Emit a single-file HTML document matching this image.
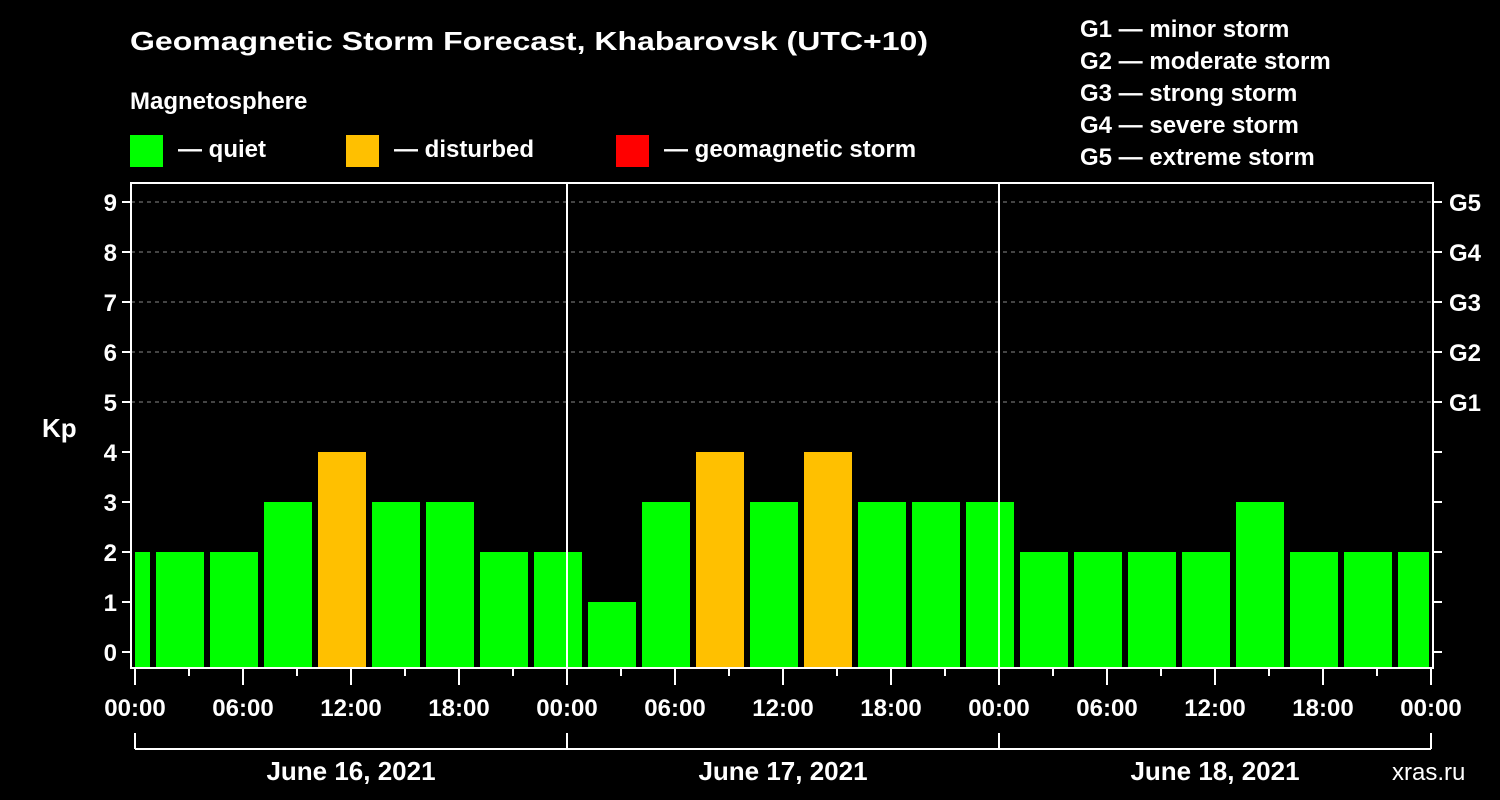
<!DOCTYPE html>
<html><head><meta charset="utf-8"><style>
body{margin:0;background:#000;}
svg{display:block;font-family:"Liberation Sans",Arial,sans-serif;font-weight:bold;}
</style></head><body>
<svg id="chart" width="1500" height="800" xmlns="http://www.w3.org/2000/svg">
<rect width="1500" height="800" fill="#000"/>
<text x="130" y="50" fill="#fff" font-size="26" textLength="798" lengthAdjust="spacingAndGlyphs">Geomagnetic Storm Forecast, Khabarovsk (UTC+10)</text>
<text x="130" y="109" fill="#fff" font-size="24">Magnetosphere</text>
<g><rect x="130" y="135" width="33" height="32" fill="#00ff00"/><text x="178" y="157" fill="#fff" font-size="24">— quiet</text></g>
<g><rect x="346" y="135" width="33" height="32" fill="#ffc000"/><text x="394" y="157" fill="#fff" font-size="24">— disturbed</text></g>
<g><rect x="616" y="135" width="33" height="32" fill="#ff0000"/><text x="664" y="157" fill="#fff" font-size="24">— geomagnetic storm</text></g>
<g fill="#fff" font-size="24">
<text x="1080" y="37">G1 — minor storm</text>
<text x="1080" y="69">G2 — moderate storm</text>
<text x="1080" y="101">G3 — strong storm</text>
<text x="1080" y="133">G4 — severe storm</text>
<text x="1080" y="165">G5 — extreme storm</text>
</g>
<text x="42" y="437" fill="#fff" font-size="26">Kp</text>
<text x="1392" y="780" fill="#fff" font-size="24" font-weight="normal">xras.ru</text>
<g id="grid"></g><g id="bars"></g><g id="axes"></g>
</svg>
<script>
const kpValues=[2,2,2,3,4,3,3,2,2,1,3,4,3,4,3,3,3,2,2,2,2,3,2,2,2];
const dayLabels=["June 16, 2021","June 17, 2021","June 18, 2021"];
const timeLabels=["00:00","06:00","12:00","18:00"];
const yTicks=[0,1,2,3,4,5,6,7,8,9];
const gLabels=["G1","G2","G3","G4","G5"];
const NS="http://www.w3.org/2000/svg";
const X0=135,PXH=18,L=131,R=1433,T=183,B=668;
const xs=h=>X0+h*PXH;
const ys=v=>652-v*50;
function mk(t,a,p){const e=document.createElementNS(NS,t);for(const k in a)e.setAttribute(k,a[k]);p.appendChild(e);return e;}
const grid=document.getElementById('grid'),bars=document.getElementById('bars'),axes=document.getElementById('axes');
for(let v=5;v<=9;v++){const l=mk('line',{x1:L,x2:R,y1:ys(v),y2:ys(v),stroke:'#888','stroke-dasharray':'4,4','stroke-width':1},grid);

}
kpValues.forEach((v,i)=>{
 const h0=-2+3*i,h1=h0+3;
 let x1=Math.max(xs(h0)+3,L+4),x2=Math.min(xs(h1)-3,R-4);
 const c=v>=5?'#ff0000':(v>=4?'#ffc000':'#00ff00');
 const r=mk('rect',{x:x1,y:ys(v),width:x2-x1,height:B-ys(v)-1,fill:c},bars);
 
 
});
const st={stroke:'#fff','stroke-width':2,fill:'none'};
const f=mk('rect',Object.assign({x:L,y:T,width:R-L,height:B-T},st),axes);


[1,2].forEach(d=>{const l=mk('line',Object.assign({x1:xs(24*d),x2:xs(24*d),y1:T,y2:B},st),axes);

});
yTicks.forEach(v=>{
 mk('line',Object.assign({x1:122,x2:L,y1:ys(v),y2:ys(v)},st),axes);
 mk('line',Object.assign({x1:R,x2:1442,y1:ys(v),y2:ys(v)},st),axes);
 const t=mk('text',{x:117,y:ys(v)+9,fill:'#fff','font-size':24,'text-anchor':'end'},axes);t.textContent=v;
 
 
});
gLabels.forEach((g,i)=>{const t=mk('text',{x:1449,y:ys(5+i)+9,fill:'#fff','font-size':24},axes);t.textContent=g;

});
for(let h=0;h<=72;h+=3){
 const maj=h%6===0;
 mk('line',Object.assign({x1:xs(h),x2:xs(h),y1:B,y2:B+(maj?17:8)},st),axes);
 if(maj){const t=mk('text',{x:xs(h),y:716,fill:'#fff','font-size':24,'text-anchor':'middle'},axes);t.textContent=timeLabels[(h/6)%4];
 
 }
}
mk('line',Object.assign({x1:xs(0),x2:xs(72),y1:749,y2:749},st),axes);
for(let d=0;d<=3;d++)mk('line',Object.assign({x1:xs(24*d),x2:xs(24*d),y1:733,y2:749},st),axes);
dayLabels.forEach((s,d)=>{const t=mk('text',{x:xs(24*d+12),y:780,fill:'#fff','font-size':26,'text-anchor':'middle'},axes);t.textContent=s;

});
</script>
</body></html>
